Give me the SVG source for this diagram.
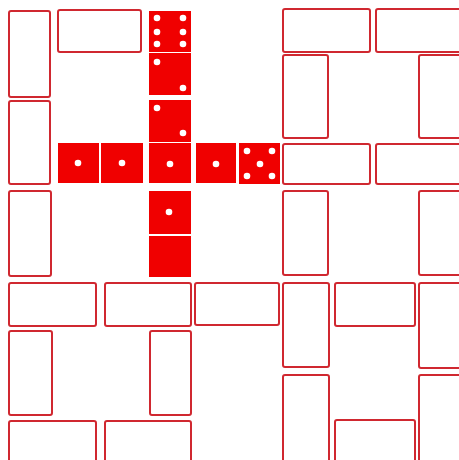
<svg xmlns="http://www.w3.org/2000/svg" width="459" height="460" viewBox="0 0 459 460">
<style>
.t{fill:#ffffff;stroke:#d02830;stroke-width:2}
.d{fill:#f00000}
.p{fill:#ffffff}
</style>
<rect width="459" height="460" fill="#ffffff"/>
<g id="tiles">
<rect class="t" x="9" y="11" width="41" height="86" rx="2"/>
<rect class="t" x="58" y="10" width="83" height="42" rx="2"/>
<rect class="t" x="9" y="101" width="41" height="83" rx="2"/>
<rect class="t" x="9" y="191" width="42" height="85" rx="2"/>
<rect class="t" x="9" y="283" width="87" height="43" rx="2"/>
<rect class="t" x="105" y="283" width="86" height="43" rx="2"/>
<rect class="t" x="195" y="283" width="84" height="42" rx="2"/>
<rect class="t" x="9" y="331" width="43" height="84" rx="2"/>
<rect class="t" x="150" y="331" width="41" height="84" rx="2"/>
<rect class="t" x="9" y="421" width="87" height="50" rx="2"/>
<rect class="t" x="105" y="421" width="86" height="50" rx="2"/>
<rect class="t" x="283" y="9" width="87" height="43" rx="2"/>
<rect class="t" x="376" y="9" width="90" height="43" rx="2"/>
<rect class="t" x="283" y="55" width="45" height="83" rx="2"/>
<rect class="t" x="419" y="55" width="46" height="83" rx="2"/>
<rect class="t" x="283" y="144" width="87" height="40" rx="2"/>
<rect class="t" x="376" y="144" width="90" height="40" rx="2"/>
<rect class="t" x="283" y="191" width="45" height="84" rx="2"/>
<rect class="t" x="419" y="191" width="46" height="84" rx="2"/>
<rect class="t" x="283" y="283" width="46" height="84" rx="2"/>
<rect class="t" x="335" y="283" width="80" height="43" rx="2"/>
<rect class="t" x="419" y="283" width="46" height="85" rx="2"/>
<rect class="t" x="283" y="375" width="46" height="95" rx="2"/>
<rect class="t" x="335" y="420" width="80" height="50" rx="2"/>
<rect class="t" x="419" y="375" width="46" height="95" rx="2"/>
</g>
<g id="dice">
<rect class="d" x="149" y="11" width="42" height="41"/>
<rect class="d" x="149" y="53" width="42" height="42"/>
<rect class="d" x="149" y="100" width="42" height="42"/>
<rect class="d" x="149" y="143" width="42" height="40"/>
<rect class="d" x="149" y="191" width="42" height="43"/>
<rect class="d" x="149" y="236" width="42" height="41"/>
<rect class="d" x="58" y="143" width="41" height="40"/>
<rect class="d" x="101" y="143" width="42" height="40"/>
<rect class="d" x="196" y="143" width="40" height="40"/>
<rect class="d" x="239" y="143" width="41" height="41"/>
</g>
<g id="pips">
<circle class="p" cx="157" cy="18" r="3.3"/>
<circle class="p" cx="183" cy="18" r="3.3"/>
<circle class="p" cx="157" cy="32" r="3.3"/>
<circle class="p" cx="183" cy="32" r="3.3"/>
<circle class="p" cx="157" cy="44" r="3.3"/>
<circle class="p" cx="183" cy="44" r="3.3"/>
<circle class="p" cx="157" cy="62" r="3.3"/>
<circle class="p" cx="183" cy="88" r="3.3"/>
<circle class="p" cx="157" cy="108" r="3.3"/>
<circle class="p" cx="183" cy="133" r="3.3"/>
<circle class="p" cx="78" cy="163" r="3.3"/>
<circle class="p" cx="122" cy="163" r="3.3"/>
<circle class="p" cx="170" cy="164" r="3.3"/>
<circle class="p" cx="216" cy="164" r="3.3"/>
<circle class="p" cx="247" cy="151" r="3.3"/>
<circle class="p" cx="272" cy="151" r="3.3"/>
<circle class="p" cx="260" cy="164" r="3.3"/>
<circle class="p" cx="247" cy="176" r="3.3"/>
<circle class="p" cx="272" cy="176" r="3.3"/>
<circle class="p" cx="169" cy="212" r="3.3"/>
</g>
</svg>
